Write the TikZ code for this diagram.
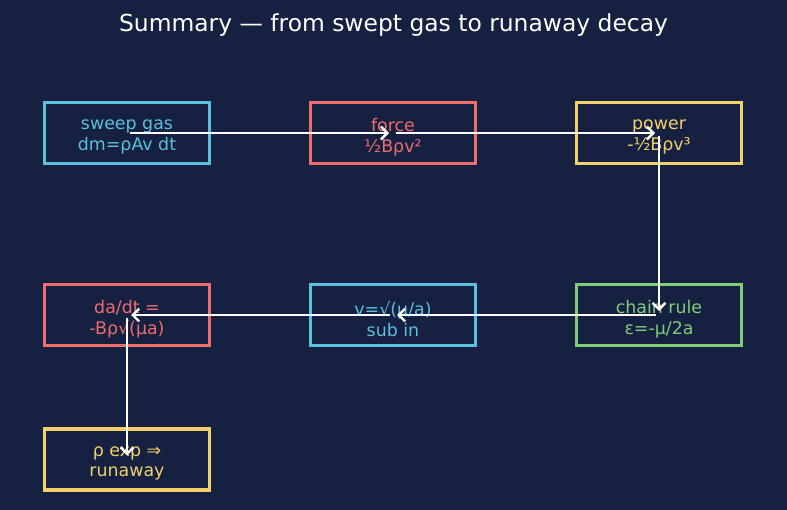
\documentclass[tikz,border=0pt]{standalone}
\usepackage{fontspec}
\setmainfont{DejaVu Sans}
\usetikzlibrary{arrows.meta}
\definecolor{bg}{HTML}{162040}
\definecolor{cblue}{HTML}{5BC0DE}
\definecolor{cred}{HTML}{EE6B6E}
\definecolor{cyellow}{HTML}{F2D16B}
\definecolor{cgreen}{HTML}{80CC78}
\tikzset{
  box/.style={draw=#1, line width=3.4pt, minimum width=165pt, minimum height=61pt, inner sep=0pt},
  txt/.style={text=#1, align=center, font=\fontsize{17.4}{20.5}\selectfont, inner sep=0pt},
  conn/.style={white, line width=2.4pt, -{Straight Barb[length=6.5pt,width=13pt,line width=2.4pt]},
    shorten <=3pt, shorten >=4pt}
}
\begin{document}
\begin{tikzpicture}[x=1pt,y=-1pt]
\fill[bg] (0,0) rectangle (787,510);
\useasboundingbox (0,0) rectangle (787,510);
\node[white, font=\fontsize{23.4}{26}\selectfont] (title) at (393.5,25) {Summary — from swept gas to runaway decay};
\node[box=cblue] (sweep) at (127,133) {};
\node[box=cred] (force) at (393,133) {};
\node[box=cyellow] (power) at (659,133) {};
\node[box=cgreen] (chain) at (659,315) {};
\node[box=cblue] (sub) at (393,315) {};
\node[box=cred] (dadt) at (127,315) {};
\node[box=cyellow] (run) at (127,459.5) {};
\node[txt=cblue] (sweepT) at ([yshift=-4pt]sweep.center) {sweep gas\\dm=ρAv dt};
\node[txt=cred] (forceT) at ([yshift=-4pt]force.center) {force\\½Bρv²};
\node[txt=cyellow] (powerT) at ([yshift=-4pt]power.center) {power\\-½Bρv³};
\node[txt=cgreen] (chainT) at ([yshift=-4pt]chain.center) {chain rule\\ε=-μ/2a};
\node[txt=cblue] (subT) at ([yshift=-4pt]sub.center) {v=√(μ/a)\\sub in};
\node[txt=cred] (dadtT) at ([yshift=-4pt]dadt.center) {da/dt =\\-Bρ√(μa)};
\node[txt=cyellow] (runT) at ([yshift=-4pt]run.center) {ρ exp ⇒\\runaway};
\draw[conn] (sweep.center) -- (force.center);
\draw[conn] (force.center) -- (power.center);
\draw[conn] (power.center) -- (chain.center);
\draw[conn] (chain.center) -- (sub.center);
\draw[conn] (sub.center) -- (dadt.center);
\draw[conn] (dadt.center) -- (run.center);
\end{tikzpicture}
\end{document}
